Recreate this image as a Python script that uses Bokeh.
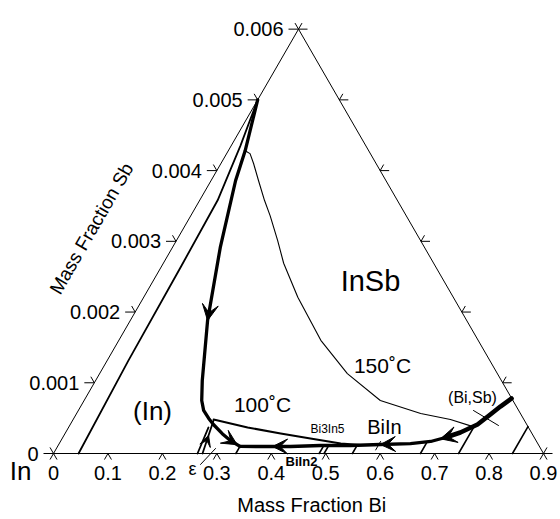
import numpy as np
from bokeh.plotting import figure
from bokeh.models import Range1d, Arrow, VeeHead
from bokeh.core.properties import value
from bokeh.embed import file_html
from bokeh.resources import INLINE

# ---------------- data (mass fractions) ----------------
BI_MAX = 0.9
SB_MAX = 0.006

bi_ticks = [0.0, 0.1, 0.2, 0.3, 0.4, 0.5, 0.6, 0.7, 0.8, 0.9]
bi_tick_labels = ["0", "0.1", "0.2", "0.3", "0.4", "0.5", "0.6", "0.7", "0.8", "0.9"]
sb_ticks = [0.0, 0.001, 0.002, 0.003, 0.004, 0.005, 0.006]
sb_tick_labels = ["0", "0.001", "0.002", "0.003", "0.004", "0.005", "0.006"]

# eutectic valley from the In-Sb side down to the ternary eutectic
valley_top_bi = [0.0, 0.031, 0.045, 0.088, 0.142, 0.196, 0.216, 0.230, 0.248, 0.263, 0.289, 0.311, 0.335]
valley_top_sb = [0.005, 0.00428, 0.00386, 0.00291, 0.00188, 0.00103, 0.00075, 0.00061, 0.000495, 0.00041, 0.00028, 0.000184, 0.0001]

# eutectic valley from the Bi-Sb side to the ternary eutectic
valley_bot_bi = [0.783, 0.771, 0.761, 0.748, 0.725, 0.703, 0.680, 0.645, 0.591, 0.537, 0.482, 0.428, 0.373, 0.335]
valley_bot_sb = [0.000778, 0.000664, 0.000551, 0.00041, 0.000297, 0.000226, 0.00017, 0.000141, 0.000127, 0.000113, 0.000113, 0.000099, 0.000099, 0.0001]

# 150 C isotherm
iso150_bi = [0.031, 0.043, 0.060, 0.087, 0.119, 0.146, 0.186, 0.221, 0.283, 0.371, 0.455, 0.544, 0.632, 0.693, 0.742]
iso150_sb = [0.00428, 0.00424, 0.00410, 0.00386, 0.00358, 0.00336, 0.00301, 0.00269, 0.00221, 0.0016, 0.00113, 0.00075, 0.000566, 0.000481, 0.00038]

# 100 C isotherm
iso100_bi = [0.258, 0.329, 0.396, 0.456, 0.517, 0.555]
iso100_sb = [0.000481, 0.000368, 0.000283, 0.000212, 0.000141, 0.00012]

# (In) phase boundary
in_bound_bi = [0.0, 0.017, 0.033, 0.036, 0.039, 0.046]
in_bound_sb = [0.005, 0.00435, 0.00358, 0.00263, 0.00131, 0.0]

# short constant-Bi lines from the Bi-In side up to the valley
hatch_bi = [0.335, 0.488, 0.497, 0.549, 0.674, 0.744, 0.843]
hatch_sb_top = [0.0001, 0.000105, 0.000105, 0.000115, 0.00016, 0.00037, 0.00038]

# BiIn marker stroke
biin_mark_bi = [0.588, 0.588]
biin_mark_sb = [0.00005, 0.00017]

# epsilon phase field boundaries
eps1_bi = [0.2645, 0.2571]
eps1_sb = [0.0, 0.000368]
eps2_bi = [0.2737, 0.2589]
eps2_sb = [0.0, 0.000467]

# label leaders
eps_lead_bi = [0.2817, 0.2923]
eps_lead_sb = [-0.000155, 0.0000707]
bisb_lead_bi = [0.7258, 0.7876]
bisb_lead_sb = [0.000608, 0.000396]

# ---------------- geometry ----------------
W, H = 560, 519
S = 490.0          # pixels per triangle side
OX, OY = 53.0, 66.0
U = 1.0 / S
R3 = np.sqrt(3) / 2
FONT = value("Liberation Sans")


def tern(bi, sb):
    bi = np.asarray(bi, float)
    sb = np.asarray(sb, float)
    t = sb / SB_MAX
    return bi / BI_MAX + 0.5 * t, t * R3


def px(x, y):
    return (x - 53) / S, (453 - y) / S


p = figure(width=W, height=H,
           x_range=Range1d(-OX / S, (W - OX) / S),
           y_range=Range1d(-OY / S, (H - OY) / S),
           output_backend="svg", toolbar_location=None, min_border=0,
           x_axis_location=None, y_axis_location=None,
           background_fill_color="white", border_fill_color="white")
p.grid.visible = False
p.outline_line_color = None

# triangle
tx_, ty_ = tern([0, BI_MAX, 0, 0], [0, 0, SB_MAX, 0])
p.line(tx_, ty_, line_color="black", line_width=1)

# ticks
xs, ys = [], []
for sb in sb_ticks:
    X, Y = tern(0.0, sb)
    X, Y = float(X), float(Y)
    xs += [[X, X - 10 * U], [X, X - 3.5 * U]]
    ys += [[Y, Y], [Y, Y + 6.06 * U]]
    X, Y = tern(BI_MAX * (1 - sb / SB_MAX), sb)
    X, Y = float(X), float(Y)
    xs += [[X, X + 9 * U], [X, X + 3.5 * U]]
    ys += [[Y, Y], [Y, Y + 6.06 * U]]
for bi in bi_ticks:
    X, Y = tern(bi, 0.0)
    X, Y = float(X), float(Y)
    xs += [[X, X - 3.5 * U], [X, X + 3.5 * U]]
    ys += [[Y, Y - 6.06 * U], [Y, Y - 6.06 * U]]
p.multi_line(xs, ys, line_color="black", line_width=1)


def curve(bis, sbs, w):
    X, Y = tern(bis, sbs)
    p.line(X, Y, line_color="black", line_width=w, line_join="round", line_cap="round")


curve(in_bound_bi, in_bound_sb, 1.8)
curve(iso150_bi, iso150_sb, 1.1)
curve(iso100_bi, iso100_sb, 2.0)
curve(valley_top_bi, valley_top_sb, 3.3)
curve(valley_bot_bi[:6], valley_bot_sb[:6], 4.6)
curve(valley_bot_bi[5:], valley_bot_sb[5:], 3.3)
curve(eps1_bi, eps1_sb, 1.8)
curve(eps2_bi, eps2_sb, 1.8)
curve(biin_mark_bi, biin_mark_sb, 1.0)
curve(eps_lead_bi, eps_lead_sb, 1.0)
curve(bisb_lead_bi, bisb_lead_sb, 1.0)
for hb, ht in zip(hatch_bi, hatch_sb_top):
    curve([hb, hb], [0.0, ht], 1.6)


def arrow_on(bis, sbs, i, f, size=13):
    X, Y = tern(bis, sbs)
    dx, dy = X[i + 1] - X[i], Y[i + 1] - Y[i]
    n = np.hypot(dx, dy)
    ex, ey = X[i] + f * dx, Y[i] + f * dy
    sx, sy = ex - dx / n * 2 * U, ey - dy / n * 2 * U
    p.add_layout(Arrow(end=VeeHead(size=size, fill_color="black", line_color="black", line_width=1),
                       x_start=float(sx), y_start=float(sy), x_end=float(ex), y_end=float(ey),
                       line_alpha=0))


arrow_on(valley_top_bi, valley_top_sb, 3, 1.0, 16)
arrow_on(valley_top_bi, valley_top_sb, 11, 0.7, 15)
arrow_on(valley_bot_bi, valley_bot_sb, 5, 0.33, 16)
arrow_on(valley_bot_bi, valley_bot_sb, 7, 1.0, 15)
arrow_on(valley_bot_bi, valley_bot_sb, 11, 0.6, 15)
arrow_on(eps2_bi, eps2_sb, 0, 0.55, 11)


def txt(x, y, s, size, align="center", angle=0.0, style="normal"):
    p.text(x=[x], y=[y], text=[s], text_font=FONT, text_font_size=value(f"{size}px"),
           text_align=align, text_baseline="middle", angle=angle,
           text_color="black", text_font_style=style)


# tick labels
for sb, lab in zip(sb_ticks, sb_tick_labels):
    X, Y = tern(0.0, sb)
    txt(float(X) - 15 * U, float(Y), lab, 20, align="right")
for bi, lab in zip(bi_ticks, bi_tick_labels):
    X, Y = tern(bi, 0.0)
    txt(float(X), float(Y) - 19 * U, lab, 20)

# titles and region labels
x, y = px(314, 504); txt(x, y, "Mass  Fraction Bi", 20)
x, y = px(91, 228); txt(x, y, "Mass Fraction Sb", 19, angle=np.pi / 3)
x, y = px(20, 470); txt(x, y, "In", 26)
x, y = px(370, 280); txt(x, y, "InSb", 29)
x, y = px(382, 365); txt(x, y, "150˚C", 21)
x, y = px(262, 404); txt(x, y, "100˚C", 21)
x, y = px(152, 410); txt(x, y, "(In)", 26)
x, y = px(327, 428); txt(x, y, "Bi3In5", 12)
x, y = px(384, 426); txt(x, y, "BiIn", 20)
x, y = px(301, 461); txt(x, y, "BiIn2", 13, style="bold")
x, y = px(472, 397); txt(x, y, "(Bi,Sb)", 16)
x, y = px(192, 468); txt(x, y, "ε", 18)

open("out.html", "w").write(file_html(p, INLINE))
